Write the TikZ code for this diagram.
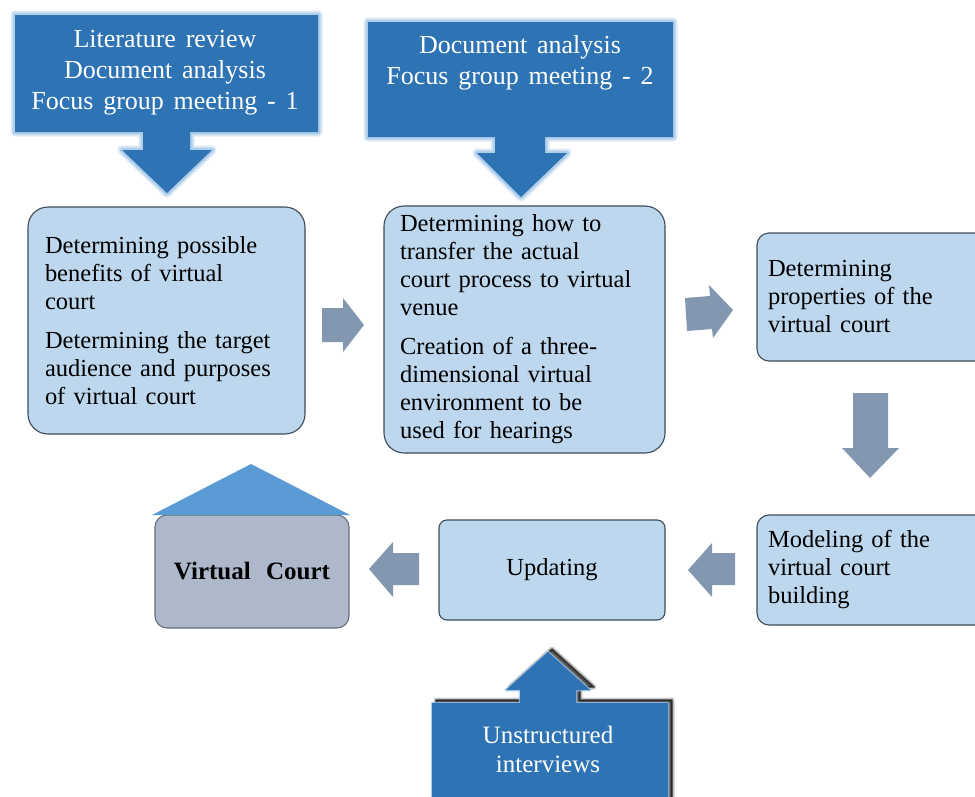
\documentclass[tikz,border=0pt]{standalone}
\usepackage{fontspec}
\setmainfont{Liberation Serif}[WordSpace=1.5]
\definecolor{callblue}{HTML}{2E74B5}
\definecolor{glowblue}{HTML}{9DC3E6}
\definecolor{boxfill}{HTML}{BDD7EE}
\definecolor{boxline}{HTML}{3E4A58}
\definecolor{arrowgray}{HTML}{8497B0}
\definecolor{roofblue}{HTML}{5B9BD5}
\definecolor{housefill}{HTML}{ADB9CA}
\tikzset{
  stagebox/.style={draw=boxline, line width=1.1pt, fill=boxfill, inner sep=0pt, align=left,
     font=\fontsize{24.5}{28}\selectfont},
  calltext/.style={text=white, align=center, inner sep=0pt, font=\fontsize{26}{31}\selectfont},
  callshape/.style={fill=callblue},
  glow/.style={draw=glowblue, line join=round},
  grayarrow/.style={fill=arrowgray},
}
\begin{document}
\begin{tikzpicture}[x=1pt,y=-1pt]
\useasboundingbox (0,0) rectangle (975,796);
\clip (0,0) rectangle (975,796);
\fill[white] (0,0) rectangle (975,796);

% ---- top callout 1
\path[glow, line width=9pt, draw opacity=0.35]
 (15,15) -- (318,15) -- (318,132) -- (190,132) -- (190,150) -- (212,150) -- (167,193) -- (122,150) -- (143,150) -- (143,132) -- (15,132) -- cycle;
\path[glow, line width=5pt, draw opacity=0.7]
 (15,15) -- (318,15) -- (318,132) -- (190,132) -- (190,150) -- (212,150) -- (167,193) -- (122,150) -- (143,150) -- (143,132) -- (15,132) -- cycle;
\path[callshape]
 (15,15) -- (318,15) -- (318,132) -- (190,132) -- (190,150) -- (212,150) -- (167,193) -- (122,150) -- (143,150) -- (143,132) -- (15,132) -- cycle;
\node[calltext] (c1) at (165,73) {Literature review\\Document analysis\\Focus group meeting - 1};

% ---- top callout 2
\path[glow, line width=9pt, draw opacity=0.35]
 (368,22) -- (673,22) -- (673,137) -- (545,137) -- (545,153) -- (567,153) -- (521,197) -- (477,153) -- (495,153) -- (495,137) -- (368,137) -- cycle;
\path[glow, line width=5pt, draw opacity=0.7]
 (368,22) -- (673,22) -- (673,137) -- (545,137) -- (545,153) -- (567,153) -- (521,197) -- (477,153) -- (495,153) -- (495,137) -- (368,137) -- cycle;
\path[callshape]
 (368,22) -- (673,22) -- (673,137) -- (545,137) -- (545,153) -- (567,153) -- (521,197) -- (477,153) -- (495,153) -- (495,137) -- (368,137) -- cycle;
\node[calltext] (c2) at (520,63) {Document analysis\\Focus group meeting - 2};

% ---- stage boxes
\node[stagebox, rounded corners=20pt, minimum width=277pt, minimum height=227pt, text width=243pt] (b1) at (166.5,320.5)
 {Determining possible\\benefits of virtual\\court\\[11pt]Determining the target\\audience and purposes\\of virtual court};
\node[stagebox, rounded corners=20pt, minimum width=281pt, minimum height=247pt, text width=249pt] (b2) at (524.5,329.5)
 {Determining how to\\transfer the actual\\court process to virtual\\venue\\[11pt]Creation of a three-\\dimensional virtual\\environment to be\\used for hearings};
\node[stagebox, rounded corners=12pt, minimum width=236pt, minimum height=128pt, text width=214pt] (b3) at (875,297)
 {Determining\\properties of the\\virtual court};
\node[stagebox, rounded corners=12pt, minimum width=236pt, minimum height=110pt, text width=214pt] (b4) at (875,570)
 {Modeling of the\\virtual court\\building};
\node[stagebox, rounded corners=8pt, minimum width=226pt, minimum height=100pt, align=center] (up) at (552,570) {Updating};

% ---- virtual court house
\node[draw=boxline!80, line width=1.1pt, fill=housefill, rounded corners=12pt, minimum width=194pt, minimum height=113pt,
      inner sep=0pt, font=\fontsize{25}{28}\selectfont\bfseries] (vc) at (252,571.5) {Virtual\hspace{6pt} Court};
\coordinate (roofL) at (152,515);
\coordinate (roofR) at (350,515);
\coordinate (roofT) at (251,464);
\fill[roofblue] (roofL) -- (roofT) -- (roofR) -- cycle;

% ---- gray block arrows between stages
\path[grayarrow] (322,308) -- (343,308) -- (343,298) -- (364,325) -- (343,352) -- (343,342) -- (322,342) -- cycle;
\path[grayarrow] (685,298) -- (710,296) -- (709,285) -- (733,310) -- (713,338) -- (712,329) -- (687,331) -- cycle;
\path[grayarrow] (853,393) -- (888,393) -- (888,448) -- (899,448) -- (870,478) -- (842,448) -- (853,448) -- cycle;
\path[grayarrow] (735,553) -- (712,553) -- (712,543) -- (688,570) -- (712,597) -- (712,585) -- (735,585) -- cycle;
\path[grayarrow] (419,553) -- (393,553) -- (393,542) -- (369,569) -- (393,597) -- (393,585) -- (419,585) -- cycle;

% ---- bottom callout with shadow
\begin{scope}[shift={(4,-3)}]
\path[draw=black, line width=5pt, draw opacity=0.2, line join=round]
 (432,810) -- (432,703) -- (520,703) -- (520,690) -- (506,690) -- (548,652) -- (590,690) -- (576,690) -- (576,703) -- (668,703) -- (668,810) -- cycle;
\path[draw=black, line width=2pt, draw opacity=0.5, fill=black, fill opacity=0.6, line join=round]
 (432,810) -- (432,703) -- (520,703) -- (520,690) -- (506,690) -- (548,652) -- (590,690) -- (576,690) -- (576,703) -- (668,703) -- (668,810) -- cycle;
\end{scope}
\path[glow, line width=2.5pt, draw opacity=0.8]
 (432,810) -- (432,703) -- (520,703) -- (520,690) -- (506,690) -- (548,652) -- (590,690) -- (576,690) -- (576,703) -- (668,703) -- (668,810) -- cycle;
\path[callshape]
 (432,810) -- (432,703) -- (520,703) -- (520,690) -- (506,690) -- (548,652) -- (590,690) -- (576,690) -- (576,703) -- (668,703) -- (668,810) -- cycle;
\node[calltext, font=\fontsize{25}{29}\selectfont] (c3) at (548,749) {Unstructured\\interviews};
\end{tikzpicture}
\end{document}
